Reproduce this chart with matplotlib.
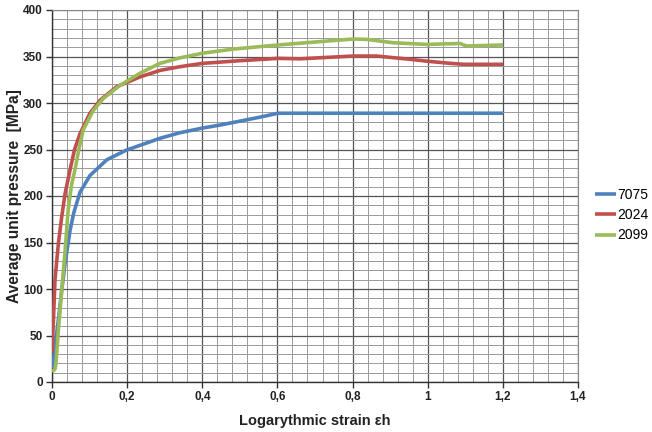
import matplotlib
matplotlib.use("Agg")
import matplotlib.pyplot as plt
from matplotlib.ticker import MultipleLocator, FixedLocator

plt.rcParams['font.family'] = ['Liberation Sans', 'DejaVu Sans']

x_7075 = [0.0, 0.004, 0.008, 0.017, 0.026, 0.035, 0.048, 0.058, 0.0745, 0.101, 0.146, 0.199, 0.245, 0.287,
          0.34, 0.40, 0.45, 0.50, 0.55, 0.602, 0.62, 0.8, 1.0, 1.2]
y_7075 = [15, 25, 38, 67, 99, 128, 163, 182, 204, 222, 239, 249.5, 256, 262,
          268, 273, 276.5, 280.5, 284.5, 289, 289, 289, 289, 289]

x_2024 = [0.0, 0.0035, 0.008, 0.017, 0.026, 0.035, 0.048, 0.06, 0.0745, 0.101, 0.128, 0.172, 0.234, 0.287,
          0.34, 0.40, 0.50, 0.602, 0.660, 0.73, 0.802, 0.864, 0.953, 0.997, 1.05, 1.095, 1.201]
y_2024 = [31, 63, 110, 149, 178, 203, 228, 250, 267, 289, 303, 317.5, 328, 335,
          339, 342.6, 345.5, 348, 347.5, 349, 350.5, 350.5, 347, 345, 343, 341.6, 341.6]

x_2099 = [0.0, 0.0035, 0.008, 0.0107, 0.017, 0.026, 0.035, 0.043, 0.052, 0.061, 0.072, 0.083, 0.110, 0.137, 0.181,
          0.234, 0.287, 0.34, 0.40, 0.483, 0.602, 0.735, 0.802, 0.837, 0.908, 0.997, 1.086, 1.103, 1.201]
y_2099 = [13, 12, 14, 20, 56, 99, 142, 185, 212, 228, 251, 271, 292, 305, 319,
          332, 342.6, 348.5, 353.5, 358, 362.4, 366.7, 368.8, 368.4, 364.8, 363, 364, 361.3, 362.4]

series_names = ['7075', '2024', '2099']
x_ticks = [0, 0.2, 0.4, 0.6, 0.8, 1.0, 1.2, 1.4]
x_tick_labels = ['0', '0,2', '0,4', '0,6', '0,8', '1', '1,2', '1,4']
y_ticks = [0, 50, 100, 150, 200, 250, 300, 350, 400]

fig = plt.figure(figsize=(6.52, 4.32), dpi=100)
ax = fig.add_axes([52/652, 50/432, 526/652, 372/432])

colors = ['#4F81BD', '#C0504D', '#9BBB59']
for xs, ys, c, n in zip([x_7075, x_2024, x_2099], [y_7075, y_2024, y_2099], colors, series_names):
    ax.plot(xs, ys, color=c, lw=2.6, label=n, solid_capstyle='butt', solid_joinstyle='round', zorder=3)

ax.set_xlim(0, 1.4)
ax.set_ylim(0, 400)
ax.xaxis.set_major_locator(FixedLocator(x_ticks))
ax.set_xticklabels(x_tick_labels)
ax.yaxis.set_major_locator(FixedLocator(y_ticks))
ax.xaxis.set_minor_locator(MultipleLocator(0.04))
ax.yaxis.set_minor_locator(MultipleLocator(10))
ax.grid(which='major', color='#555555', lw=0.9)
ax.grid(which='minor', color='#9a9a9a', lw=0.7)
ax.set_axisbelow(True)

for s in ['top', 'right']:
    ax.spines[s].set_color('#888888')
    ax.spines[s].set_linewidth(0.8)
for s in ['left', 'bottom']:
    ax.spines[s].set_color('#333333')
    ax.spines[s].set_linewidth(1.0)

ax.tick_params(which='major', direction='out', length=4, width=1, color='#333333',
               labelsize=8.5, pad=2.5)
ax.tick_params(which='minor', length=0)
for lab in ax.get_xticklabels() + ax.get_yticklabels():
    lab.set_fontweight('bold')
    lab.set_color('#222222')

ax.set_xlabel('Logarythmic strain εh', fontsize=10.5, fontweight='bold', labelpad=8, color='#222222')
ax.set_ylabel('Average unit pressure  [MPa]', fontsize=11.2, fontweight='bold', labelpad=1, color='#222222')

fig.legend(loc='upper left', bbox_to_anchor=(595/652, 1 - 188/432), frameon=False,
           fontsize=10, handlelength=1.5, handletextpad=0.1, labelspacing=0.45,
           borderaxespad=0, borderpad=0)

fig.savefig('out.png', dpi=100)
